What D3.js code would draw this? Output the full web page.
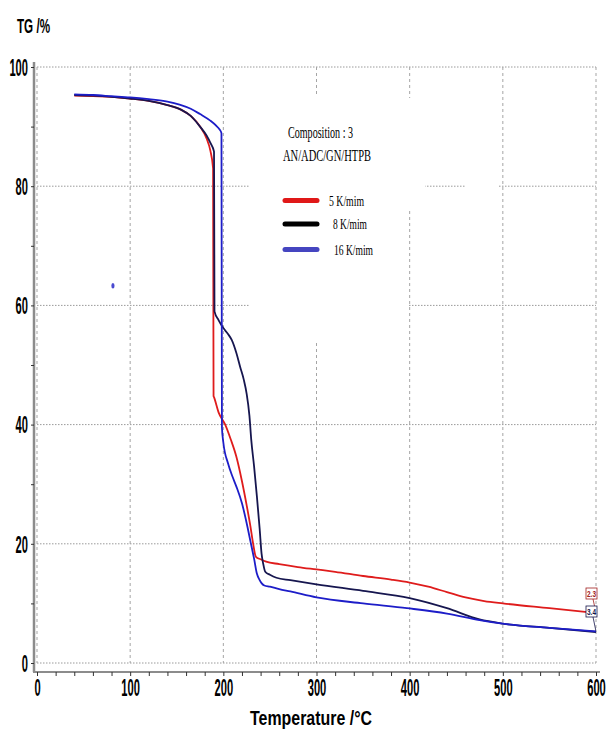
<!DOCTYPE html>
<html>
<head>
<meta charset="utf-8">
<script src="https://cdn.jsdelivr.net/npm/d3@7"></script>
<style>
  body { margin: 0; background: #fff; }
  svg { display: block; }
</style>
</head>
<body>
<div id="chart"></div>
<script>
// TG curves (temperature in °C, mass in %)
const temp5 = [40, 60, 80, 100, 120, 140, 155, 165, 175, 182, 186, 189, 189.5, 190, 195, 202, 208, 214, 220, 225, 229, 232, 235, 240, 246, 260, 280, 300, 320, 350, 380, 400, 420, 440, 460, 480, 500, 550, 600];
const mass5 = [95.2, 95.1, 95.0, 94.7, 94.3, 93.6, 92.8, 91.8, 90.0, 88.0, 86.0, 83.0, 44.8, 44.6, 42.0, 40.0, 37.5, 34.6, 30.5, 26.5, 23.0, 20.0, 17.8, 17.4, 17.0, 16.6, 16.1, 15.7, 15.3, 14.6, 14.0, 13.5, 12.8, 11.9, 11.0, 10.4, 10.0, 9.2, 8.4];

const temp8 = [40, 60, 80, 100, 120, 140, 155, 165, 175, 182, 186, 190, 190.5, 195, 200, 205, 209, 214, 218, 222, 225, 228, 230, 233, 236, 239, 241, 243, 245, 250, 257, 272, 300, 350, 400, 440, 475, 500, 550, 600];
const mass8 = [95.3, 95.2, 95.0, 94.7, 94.3, 93.6, 92.8, 91.8, 90.0, 88.5, 87.3, 85.8, 59.0, 57.5, 56.2, 55.2, 54.2, 52.0, 49.7, 47.5, 45.2, 41.5, 37.4, 33.0, 28.0, 22.5, 18.4, 16.5, 15.3, 14.8, 14.3, 13.9, 13.2, 12.1, 10.9, 9.2, 7.3, 6.6, 5.9, 5.2];

const temp16 = [40, 60, 80, 100, 120, 140, 153, 165, 175, 186, 192, 196, 198, 198.5, 200, 205, 210, 214, 220, 225, 229, 233, 236, 239, 241, 244, 250, 260, 272, 300, 350, 397, 440, 475, 500, 550, 600];
const mass16 = [95.4, 95.3, 95.1, 94.9, 94.6, 94.2, 93.7, 93.0, 92.1, 91.0, 90.2, 89.5, 88.9, 39.5, 37.0, 33.5, 31.2, 29.6, 26.8, 23.5, 20.5, 17.5, 15.0, 13.9, 13.4, 13.0, 12.8, 12.4, 12.0, 11.0, 10.0, 9.2, 8.3, 7.2, 6.6, 5.9, 5.3];

const seriesNames = ["5 K/mim", "8 K/mim", "16 K/mim"];
const seriesColors = ["#df1c1c", "#16164f", "#1d1dc8"];
const legendColors = ["#e01818", "#000000", "#4545c0"];

// stray point and end-of-curve boxed labels
const strayPoint = { t: 81.5, m: 63.3 };
const endLabels = ["2.3", "3.4"];
const endLabelValues = [8.4, 5.3];

const xTicks = [0, 100, 200, 300, 400, 500, 600];
const yTicks = [0, 20, 40, 60, 80, 100];

const W = 607, H = 731;
const font = "'Liberation Sans Narrow', 'Liberation Sans', Arial, sans-serif";
const serif = "'Liberation Serif', 'DejaVu Serif', serif";

const svg = d3.select("#chart").append("svg")
    .attr("width", W)
    .attr("height", H);

const x = d3.scaleLinear().domain([0, 600]).range([37, 596]);
const y = d3.scaleLinear().domain([0, 100]).range([663, 67]);

// grid
const grid = svg.append("g").attr("class", "grid");
grid.selectAll(".hgrid")
    .data(yTicks)
    .enter().append("line")
    .attr("x1", x(0)).attr("x2", x(600))
    .attr("y1", d => y(d)).attr("y2", d => y(d))
    .attr("stroke", "#9a9a9a")
    .attr("stroke-width", 1)
    .attr("stroke-dasharray", "1.5,1.5");
grid.selectAll(".vgrid")
    .data(xTicks)
    .enter().append("line")
    .attr("x1", d => x(d)).attr("x2", d => x(d))
    .attr("y1", y(100)).attr("y2", y(0))
    .attr("stroke", "#a5a5a5")
    .attr("stroke-width", 1)
    .attr("stroke-dasharray", "3,3");

// white patches behind the legend (grid is hidden there in the original)
[[250, 95, 158, 246], [405, 98, 20, 112], [466, 183, 32, 8]].forEach(r => {
    svg.append("rect")
        .attr("x", r[0]).attr("y", r[1])
        .attr("width", r[2]).attr("height", r[3])
        .attr("fill", "#fff");
});

// axes (labels squeezed to the narrow bold look of the original)
const digitW = 6.2;
const yAxis = svg.append("g")
    .attr("transform", "translate(34,0)")
    .call(d3.axisLeft(y).tickValues(d3.range(0, 101, 10)).tickSize(3).tickFormat(d => d % 20 === 0 ? d : ""));
yAxis.select(".domain").attr("stroke", "#8c8c8c").attr("stroke-width", 2.5)
    .attr("d", `M0,62V672`);
yAxis.selectAll(".tick line").attr("stroke", "#333");
yAxis.selectAll(".tick text")
    .attr("x", -6)
    .attr("dy", "0.36em")
    .attr("textLength", d => d % 20 === 0 ? String(d).length * digitW : null)
    .attr("lengthAdjust", "spacingAndGlyphs")
    .style("font-family", font)
    .style("font-weight", "bold")
    .style("font-size", "23px")
    .attr("fill", "#000");

const xAxis = svg.append("g")
    .attr("transform", "translate(0,672)")
    .call(d3.axisBottom(x).tickValues(d3.range(0, 601, 20)).tickSize(4).tickFormat(d => d % 100 === 0 ? d : ""));
xAxis.select(".domain").attr("stroke", "#8c8c8c").attr("stroke-width", 2)
    .attr("d", `M33,0H600`);
xAxis.selectAll(".tick line").attr("stroke", "#333");
xAxis.selectAll(".tick text")
    .attr("y", 8)
    .attr("textLength", d => d % 100 === 0 ? String(d).length * digitW : null)
    .attr("lengthAdjust", "spacingAndGlyphs")
    .style("font-family", font)
    .style("font-weight", "bold")
    .style("font-size", "23px")
    .attr("fill", "#000");

// axis titles
svg.append("text")
    .attr("x", 17).attr("y", 33)
    .attr("textLength", 33).attr("lengthAdjust", "spacingAndGlyphs")
    .style("font-family", font).style("font-weight", "bold").style("font-size", "21px")
    .text("TG /%");
svg.append("text")
    .attr("x", 250).attr("y", 725)
    .attr("textLength", 122).attr("lengthAdjust", "spacingAndGlyphs")
    .style("font-family", font).style("font-weight", "bold").style("font-size", "21px")
    .text("Temperature /°C");

// curves
const series = [
    { t: temp5, m: mass5 },
    { t: temp8, m: mass8 },
    { t: temp16, m: mass16 }
];
const line = d3.line()
    .x(d => x(d[0]))
    .y(d => y(d[1]))
    .curve(d3.curveMonotoneX);

svg.selectAll(".curve")
    .data(series)
    .enter().append("path")
    .attr("class", "curve")
    .attr("d", s => line(s.t.map((t, i) => [t, s.m[i]])))
    .attr("fill", "none")
    .attr("stroke", (s, i) => seriesColors[i])
    .attr("stroke-width", 1.8)
    .attr("stroke-linejoin", "round");

// stray point
svg.append("ellipse")
    .attr("cx", x(strayPoint.t)).attr("cy", y(strayPoint.m))
    .attr("rx", 1.6).attr("ry", 2.8)
    .attr("fill", "#4a4ad0");

// boxed end labels
const endColors = ["#a02020", "#14144a"];
endLabels.forEach((lab, i) => {
    const by = i === 0 ? 588 : 606;
    const g = svg.append("g");
    g.append("line")
        .attr("x1", 593).attr("y1", by + 11)
        .attr("x2", x(600)).attr("y2", y(endLabelValues[i]))
        .attr("stroke", endColors[i]).attr("stroke-width", 0.8);
    g.append("rect")
        .attr("x", 586).attr("y", by)
        .attr("width", 11).attr("height", 11)
        .attr("fill", "#fff")
        .attr("stroke", endColors[i]).attr("stroke-width", 0.8);
    g.append("text")
        .attr("x", 591.5).attr("y", by + 8.5)
        .attr("text-anchor", "middle")
        .attr("textLength", 9).attr("lengthAdjust", "spacingAndGlyphs")
        .style("font-family", font).style("font-weight", "bold").style("font-size", "9px")
        .attr("fill", endColors[i])
        .text(lab);
});

// legend
const legend = svg.append("g").attr("class", "legend");
legend.append("text")
    .attr("x", 288).attr("y", 138)
    .attr("textLength", 65).attr("lengthAdjust", "spacingAndGlyphs")
    .style("font-family", serif).style("font-size", "16px")
    .text("Composition : 3");
legend.append("text")
    .attr("x", 283).attr("y", 161)
    .attr("textLength", 88).attr("lengthAdjust", "spacingAndGlyphs")
    .style("font-family", serif).style("font-size", "16px")
    .text("AN/ADC/GN/HTPB");

const rowY = [200.5, 224, 249.5];
const textX = [329, 333, 334];
const textW = [35, 34, 39];
const items = legend.selectAll(".legend-item")
    .data(seriesNames)
    .enter().append("g")
    .attr("class", "legend-item");
items.append("line")
    .attr("x1", 285).attr("x2", 317)
    .attr("y1", (d, i) => rowY[i]).attr("y2", (d, i) => rowY[i])
    .attr("stroke", (d, i) => legendColors[i])
    .attr("stroke-width", 5)
    .attr("stroke-linecap", "round");
items.append("text")
    .attr("x", (d, i) => textX[i])
    .attr("y", (d, i) => rowY[i] + 5)
    .attr("textLength", (d, i) => textW[i]).attr("lengthAdjust", "spacingAndGlyphs")
    .style("font-family", serif).style("font-size", "15px")
    .text(d => d);
</script>
</body>
</html>
